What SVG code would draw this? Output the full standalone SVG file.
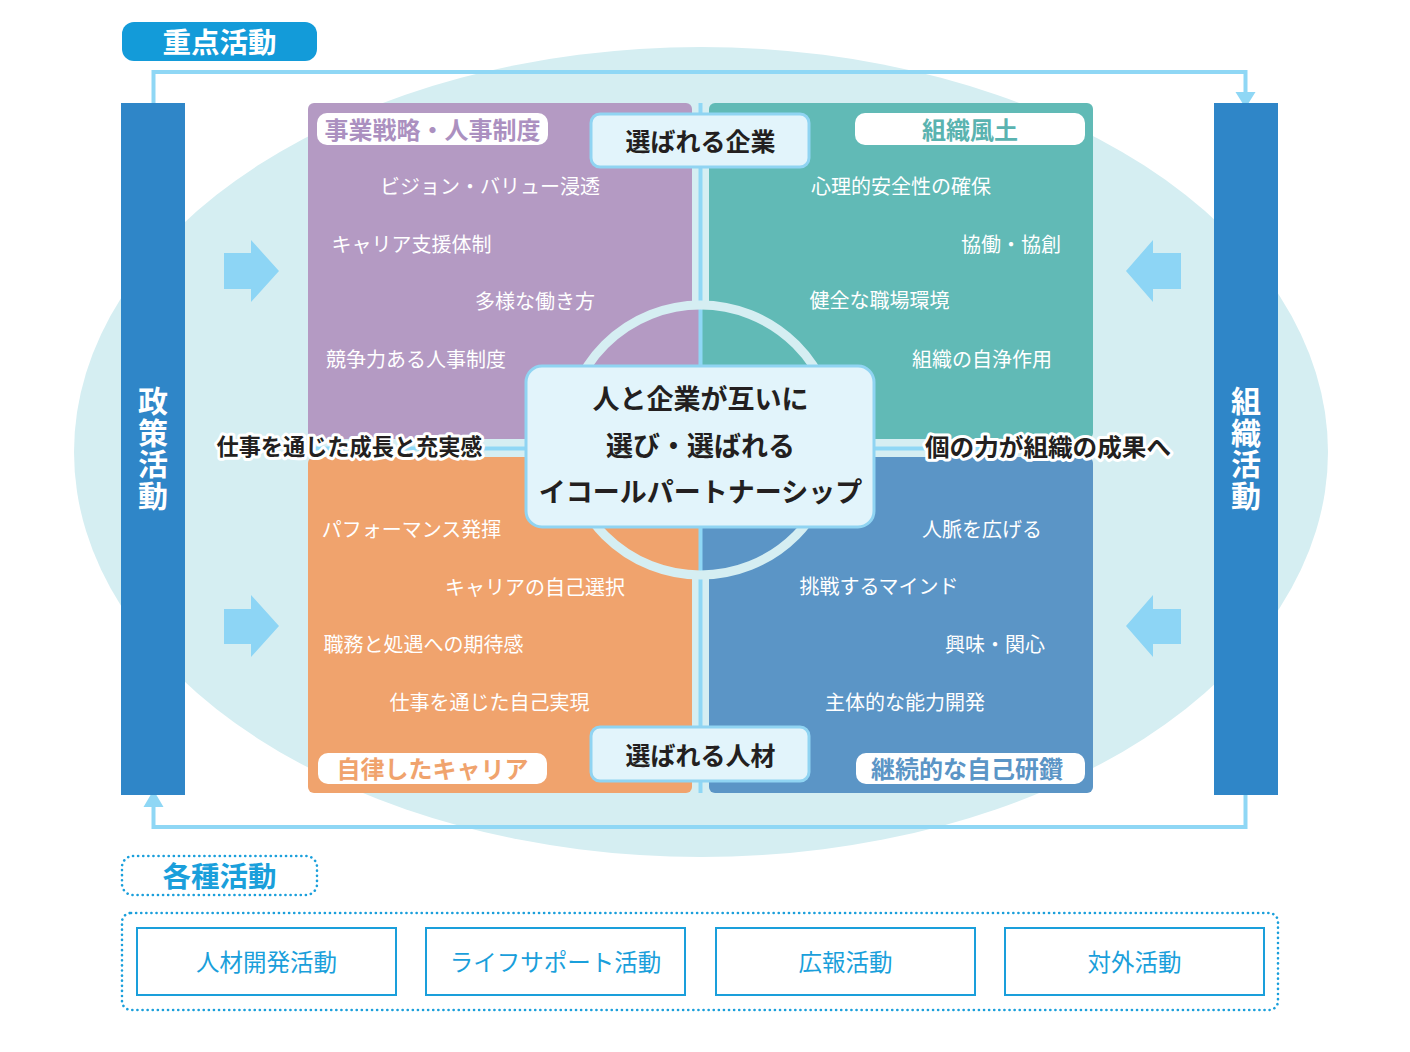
<svg xmlns="http://www.w3.org/2000/svg" width="1410" height="1052" viewBox="0 0 1410 1052">
<defs>
<style>
text{font-family:"Noto Sans CJK JP","Noto Sans",sans-serif;}
.item{fill:#ffffff;font-size:20px;dominant-baseline:central;text-anchor:middle;}
.blk{fill:#231f20;font-weight:bold;dominant-baseline:central;text-anchor:middle;}
.halo{paint-order:stroke;stroke:#ffffff;stroke-width:6;stroke-linejoin:round;}
.pill{fill:#ffffff;}
.plab{font-size:24px;font-weight:bold;dominant-baseline:central;text-anchor:middle;}
.cbox{fill:#e2f4fb;stroke:#90d4f2;stroke-width:3;}
.bar{fill:#2f86c8;}
.vt{fill:#ffffff;font-size:30px;font-weight:bold;writing-mode:vertical-rl;letter-spacing:1.5px;}
.loop{fill:none;stroke:#8fd7f5;stroke-width:4;}
.head{fill:#8fd7f5;}
.barrow{fill:#8dd5f5;}
.act{fill:#ffffff;stroke:#1a9fdb;stroke-width:2;}
.actt{fill:#1a9fdb;font-size:23.5px;text-anchor:middle;dominant-baseline:central;}
.dot{fill:none;stroke:#1a9fdb;stroke-width:2.6;stroke-dasharray:0.1 5;stroke-linecap:round;}
</style>
<clipPath id="circ"><circle cx="700.5" cy="440" r="135"/></clipPath>
</defs>

<rect x="0" y="0" width="1410" height="1052" fill="#ffffff"/>

<g id="background">
<ellipse cx="701" cy="452" rx="627" ry="405" fill="#d5eef2"/>
</g>

<g id="title-juten">
<rect x="122" y="22" width="195" height="39" rx="12" fill="#139bd9"/>
<text x="219.5" y="40" fill="#ffffff" font-size="28.5" font-weight="bold" text-anchor="middle" dominant-baseline="central">重点活動</text>
</g>

<g id="connectors">
<polyline class="loop" points="153.5,103 153.5,72 1245.5,72 1245.5,93"/>
<polygon class="head" points="1235.5,92 1255.5,92 1245.5,108"/>
<polyline class="loop" points="1245.5,795 1245.5,827 153.5,827 153.5,806"/>
<polygon class="head" points="143.5,807 163.5,807 153.5,790"/>
<polygon class="barrow" points="224,253 251,253 251,240 279,271 251,302 251,289 224,289"/>
<polygon class="barrow" points="224,609 251,609 251,595 279,626 251,657 251,644 224,644"/>
<polygon class="barrow" points="1181,253 1153,253 1153,240 1126,271 1153,302 1153,289 1181,289"/>
<polygon class="barrow" points="1181,609 1153,609 1153,595 1126,626 1153,657 1153,644 1181,644"/>
</g>

<g id="bar-seisaku">
<rect class="bar" x="121" y="103" width="64" height="692"/>
<text class="vt" x="153" y="386">政策活動</text>
</g>

<g id="bar-soshiki">
<rect class="bar" x="1214" y="103" width="64" height="692"/>
<text class="vt" x="1246" y="386">組織活動</text>
</g>

<g id="quadrants">
<rect x="308" y="103" width="384" height="336" rx="6" fill="#b49ac3"/>
<rect x="709" y="103" width="384" height="336" rx="6" fill="#61bab6"/>
<rect x="308" y="457" width="384" height="336" rx="6" fill="#f0a36d"/>
<rect x="709" y="457" width="384" height="336" rx="6" fill="#5b95c6"/>
<g clip-path="url(#circ)">
<rect x="560" y="300" width="141" height="148" fill="#b49ac3"/>
<rect x="700" y="300" width="141" height="148" fill="#61bab6"/>
<rect x="560" y="448" width="141" height="135" fill="#f0a36d"/>
<rect x="700" y="448" width="141" height="135" fill="#5b95c6"/>
</g>
<line x1="700.5" y1="103" x2="700.5" y2="793" stroke="#8fd7f5" stroke-width="4"/>
<line x1="308" y1="448.5" x2="1093" y2="448.5" stroke="#8fd7f5" stroke-width="4"/>
<circle cx="700.5" cy="440" r="135" fill="none" stroke="#d5eef2" stroke-width="9"/>
</g>

<g id="q-strategy">
<rect class="pill" x="317" y="113" width="231" height="32" rx="10"/>
<text class="plab" x="432.5" y="128.5" fill="#ab90c0">事業戦略・人事制度</text>
<text class="item" x="490" y="185">ビジョン・バリュー浸透</text>
<text class="item" x="411.5" y="243">キャリア支援体制</text>
<text class="item" x="535" y="300">多様な働き方</text>
<text class="item" x="416" y="358">競争力ある人事制度</text>
</g>

<g id="q-culture">
<rect class="pill" x="855" y="113" width="230" height="32" rx="10"/>
<text class="plab" x="970" y="128.5" fill="#5ab3b0">組織風土</text>
<text class="item" x="901" y="185">心理的安全性の確保</text>
<text class="item" x="1011" y="243">協働・協創</text>
<text class="item" x="879.5" y="299">健全な職場環境</text>
<text class="item" x="982" y="358">組織の自浄作用</text>
</g>

<g id="q-career">
<rect class="pill" x="318" y="753" width="229" height="31" rx="10"/>
<text class="plab" x="432.5" y="767.5" fill="#f0a36d">自律したキャリア</text>
<text class="item" x="411.5" y="528">パフォーマンス発揮</text>
<text class="item" x="535" y="586">キャリアの自己選択</text>
<text class="item" x="423.5" y="643">職務と処遇への期待感</text>
<text class="item" x="489.5" y="701">仕事を通じた自己実現</text>
</g>

<g id="q-selfdev">
<rect class="pill" x="856" y="753" width="229" height="31" rx="10"/>
<text class="plab" x="967" y="767.5" fill="#5b95c6">継続的な自己研鑽</text>
<text class="item" x="982" y="528">人脈を広げる</text>
<text class="item" x="879" y="585">挑戦するマインド</text>
<text class="item" x="995" y="643">興味・関心</text>
<text class="item" x="905" y="701">主体的な能力開発</text>
</g>

<g id="label-growth">
<text class="blk halo" x="349.5" y="445" font-size="23" textLength="266" lengthAdjust="spacingAndGlyphs">仕事を通じた成長と充実感</text>
</g>

<g id="label-result">
<text class="blk halo" x="1048" y="445" font-size="24" textLength="246" lengthAdjust="spacingAndGlyphs">個の力が組織の成果へ</text>
</g>

<g id="box-company">
<rect class="cbox" x="591" y="114" width="218" height="53" rx="9"/>
<text class="blk" x="700.5" y="140" font-size="25">選ばれる企業</text>
</g>

<g id="box-talent">
<rect class="cbox" x="591" y="727" width="218" height="54" rx="9"/>
<text class="blk" x="700.5" y="754" font-size="25">選ばれる人材</text>
</g>

<g id="box-center">
<rect class="cbox" x="526" y="366" width="348" height="161" rx="16"/>
<text class="blk" x="700.5" y="397.5" font-size="27">人と企業が互いに</text>
<text class="blk" x="700.5" y="444" font-size="27">選び・選ばれる</text>
<text class="blk" x="700.5" y="490.5" font-size="27">イコールパートナーシップ</text>
</g>

<g id="title-kakushu">
<rect class="dot" x="122" y="856" width="195" height="39" rx="11"/>
<text x="219.5" y="874.5" fill="#1a9fdb" font-size="28.5" font-weight="bold" text-anchor="middle" dominant-baseline="central">各種活動</text>
</g>

<g id="activities">
<rect class="dot" x="122" y="913" width="1156" height="97" rx="9"/>
<g id="act-jinzai">
<rect class="act" x="137" y="928" width="259" height="67"/>
<text class="actt" x="266.5" y="961">人材開発活動</text>
</g>
<g id="act-life">
<rect class="act" x="426" y="928" width="259" height="67"/>
<text class="actt" x="555.5" y="961">ライフサポート活動</text>
</g>
<g id="act-pr">
<rect class="act" x="716" y="928" width="259" height="67"/>
<text class="actt" x="845.5" y="961">広報活動</text>
</g>
<g id="act-ext">
<rect class="act" x="1005" y="928" width="259" height="67"/>
<text class="actt" x="1134.5" y="961">対外活動</text>
</g>
</g>
</svg>
